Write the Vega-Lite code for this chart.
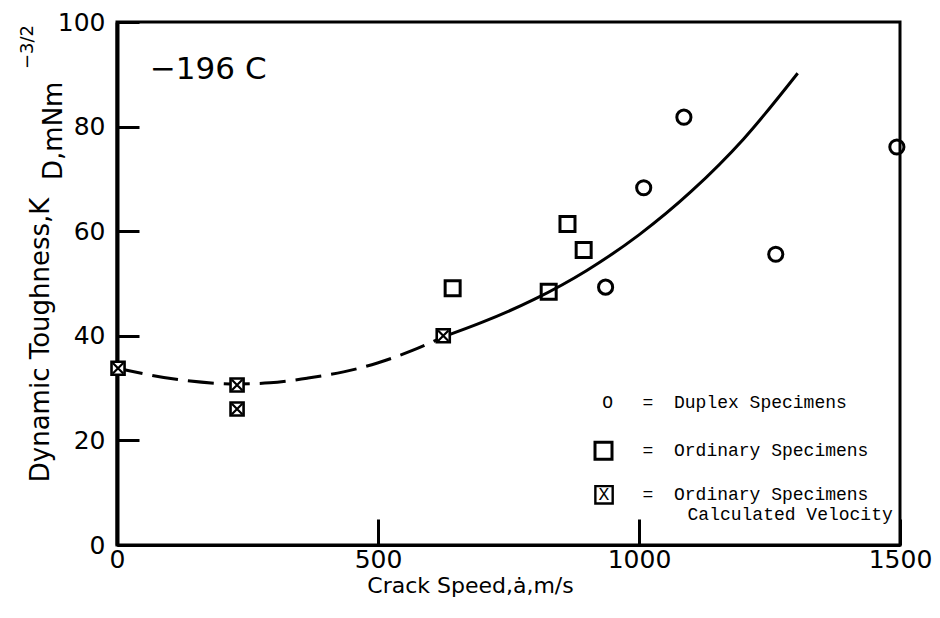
{
  "$schema": "https://vega.github.io/schema/vega-lite/v6.json",
  "width": 783,
  "height": 523,
  "autosize": {"type": "none"},
  "padding": {"left": 117, "top": 22, "right": 40, "bottom": 73},
  "background": "white",
  "config": {
    "view": {"stroke": "black", "strokeWidth": 3},
    "font": "DejaVu Sans",
    "axis": {"grid": false, "domainColor": "black", "tickColor": "black", "labelColor": "black", "titleColor": "black"}
  },
  "datasets": {
    "specimens": [
      {"speed": 1086, "toughness": 81.8, "group": "Duplex"},
      {"speed": 1009, "toughness": 68.3, "group": "Duplex"},
      {"speed": 936, "toughness": 49.3, "group": "Duplex"},
      {"speed": 1262, "toughness": 55.6, "group": "Duplex"},
      {"speed": 1494, "toughness": 76.1, "group": "Duplex"},
      {"speed": 643, "toughness": 49.1, "group": "Ordinary"},
      {"speed": 827, "toughness": 48.4, "group": "Ordinary"},
      {"speed": 863, "toughness": 61.4, "group": "Ordinary"},
      {"speed": 894, "toughness": 56.4, "group": "Ordinary"},
      {"speed": 2, "toughness": 33.8, "group": "Calculated"},
      {"speed": 230, "toughness": 30.6, "group": "Calculated"},
      {"speed": 230, "toughness": 26.0, "group": "Calculated"},
      {"speed": 625, "toughness": 40.0, "group": "Calculated"}
    ],
    "fitDashed": [
      {"speed": 0, "toughness": 33.8},
      {"speed": 127, "toughness": 31.5},
      {"speed": 230, "toughness": 30.8},
      {"speed": 293, "toughness": 31.0},
      {"speed": 364, "toughness": 31.9},
      {"speed": 434, "toughness": 33.1},
      {"speed": 499, "toughness": 34.8},
      {"speed": 566, "toughness": 37.2},
      {"speed": 625, "toughness": 39.8}
    ],
    "fitSolid": [
      {"speed": 625, "toughness": 39.8},
      {"speed": 700, "toughness": 42.6},
      {"speed": 800, "toughness": 47.0},
      {"speed": 900, "toughness": 52.5},
      {"speed": 1000, "toughness": 59.3},
      {"speed": 1100, "toughness": 67.6},
      {"speed": 1200, "toughness": 77.6},
      {"speed": 1304, "toughness": 90.2}
    ],
    "note": [{}]
  },
  "layer": [
    {
      "data": {"name": "fitDashed"},
      "mark": {"type": "line", "color": "black", "strokeWidth": 3, "strokeDash": [26, 10], "interpolate": "monotone"},
      "encoding": {
        "x": {
          "field": "speed", "type": "quantitative",
          "scale": {"domain": [0, 1500], "nice": false, "zero": false},
          "axis": {
            "title": "Crack Speed,ȧ,m/s",
            "values": [0, 500, 1000, 1500],
            "format": "d",
            "tickSize": -26, "tickWidth": 3, "domainWidth": 3,
            "labelPadding": 28, "labelFontSize": 25, "labelFlush": false, "labelOverlap": false,
            "titleFontSize": 22, "titleFontWeight": "normal", "titleFont": "DejaVu Sans",
            "titleX": 353, "titleY": 40, "titleBaseline": "middle", "titleAlign": "center", "titleAnchor": null
          }
        },
        "y": {
          "field": "toughness", "type": "quantitative",
          "scale": {"domain": [0, 100], "nice": false, "zero": false},
          "axis": {
            "title": null,
            "values": [0, 20, 40, 60, 80, 100],
            "tickSize": -22, "tickWidth": 3, "domainWidth": 4,
            "labelPadding": 34, "labelFontSize": 25, "labelFlush": false, "labelOverlap": false
          }
        }
      }
    },
    {
      "data": {"name": "fitSolid"},
      "mark": {"type": "line", "color": "black", "strokeWidth": 3, "interpolate": "monotone"},
      "encoding": {
        "x": {"field": "speed", "type": "quantitative"},
        "y": {"field": "toughness", "type": "quantitative"}
      }
    },
    {
      "data": {"name": "specimens"},
      "transform": [{"filter": "datum.group === 'Duplex'"}],
      "mark": {"type": "point", "shape": "circle", "filled": false, "color": "black", "strokeWidth": 3, "size": 200, "opacity": 1},
      "encoding": {
        "x": {"field": "speed", "type": "quantitative"},
        "y": {"field": "toughness", "type": "quantitative"}
      }
    },
    {
      "data": {"name": "specimens"},
      "transform": [{"filter": "datum.group === 'Ordinary'"}],
      "mark": {"type": "point", "shape": "square", "filled": false, "color": "black", "strokeWidth": 3, "size": 225, "opacity": 1},
      "encoding": {
        "x": {"field": "speed", "type": "quantitative"},
        "y": {"field": "toughness", "type": "quantitative"}
      }
    },
    {
      "data": {"name": "specimens"},
      "transform": [{"filter": "datum.group === 'Calculated'"}],
      "mark": {"type": "point", "shape": "square", "filled": true, "fill": "white", "stroke": "black", "strokeWidth": 2.6, "size": 170, "opacity": 1},
      "encoding": {
        "x": {"field": "speed", "type": "quantitative"},
        "y": {"field": "toughness", "type": "quantitative"}
      }
    },
    {
      "data": {"name": "specimens"},
      "transform": [{"filter": "datum.group === 'Calculated'"}],
      "mark": {"type": "point", "shape": "M-0.8,-0.8L0.8,0.8M0.8,-0.8L-0.8,0.8", "filled": false, "color": "black", "strokeWidth": 2.2, "size": 170, "opacity": 1},
      "encoding": {
        "x": {"field": "speed", "type": "quantitative"},
        "y": {"field": "toughness", "type": "quantitative"}
      }
    },
    {
      "data": {"name": "note"},
      "mark": {"type": "text", "text": "−196 C", "font": "DejaVu Sans", "fontSize": 31, "align": "left", "baseline": "middle", "color": "black"},
      "encoding": {
        "x": {"datum": 63, "type": "quantitative"},
        "y": {"datum": 90.8, "type": "quantitative"}
      }
    },
    {
      "data": {"name": "note"},
      "mark": {"type": "text", "text": "Dynamic Toughness,K", "font": "DejaVu Sans", "fontSize": 26, "angle": 270, "align": "left", "baseline": "alphabetic", "dy": -68, "color": "black"},
      "encoding": {
        "x": {"datum": 0, "type": "quantitative"},
        "y": {"datum": 12.0, "type": "quantitative"}
      }
    },
    {
      "data": {"name": "note"},
      "mark": {"type": "text", "text": "D,mNm", "font": "DejaVu Sans", "fontSize": 26, "angle": 270, "align": "left", "baseline": "alphabetic", "dy": -55, "color": "black"},
      "encoding": {
        "x": {"datum": 0, "type": "quantitative"},
        "y": {"datum": 69.8, "type": "quantitative"}
      }
    },
    {
      "data": {"name": "note"},
      "mark": {"type": "text", "text": "−3/2", "font": "DejaVu Sans", "fontSize": 18, "angle": 270, "align": "left", "baseline": "alphabetic", "dy": -84, "color": "black"},
      "encoding": {
        "x": {"datum": 0, "type": "quantitative"},
        "y": {"datum": 91.0, "type": "quantitative"}
      }
    },
    {
      "data": {"name": "note"},
      "mark": {"type": "text", "text": "O", "font": "Liberation Mono", "fontSize": 18, "align": "center", "baseline": "middle", "color": "black"},
      "encoding": {"x": {"datum": 940, "type": "quantitative"}, "y": {"datum": 27.2, "type": "quantitative"}}
    },
    {
      "data": {"name": "note"},
      "mark": {"type": "text", "text": "=", "font": "Liberation Mono", "fontSize": 18, "align": "center", "baseline": "middle", "color": "black"},
      "encoding": {"x": {"datum": 1017, "type": "quantitative"}, "y": {"datum": 27.2, "type": "quantitative"}}
    },
    {
      "data": {"name": "note"},
      "mark": {"type": "text", "text": "Duplex Specimens", "font": "Liberation Mono", "fontSize": 18, "align": "left", "baseline": "middle", "color": "black"},
      "encoding": {"x": {"datum": 1067, "type": "quantitative"}, "y": {"datum": 27.2, "type": "quantitative"}}
    },
    {
      "data": {"name": "note"},
      "mark": {"type": "point", "shape": "square", "filled": false, "color": "black", "strokeWidth": 3, "size": 289, "opacity": 1},
      "encoding": {"x": {"datum": 932, "type": "quantitative"}, "y": {"datum": 18.0, "type": "quantitative"}}
    },
    {
      "data": {"name": "note"},
      "mark": {"type": "text", "text": "=", "font": "Liberation Mono", "fontSize": 18, "align": "center", "baseline": "middle", "color": "black"},
      "encoding": {"x": {"datum": 1017, "type": "quantitative"}, "y": {"datum": 18.0, "type": "quantitative"}}
    },
    {
      "data": {"name": "note"},
      "mark": {"type": "text", "text": "Ordinary Specimens", "font": "Liberation Mono", "fontSize": 18, "align": "left", "baseline": "middle", "color": "black"},
      "encoding": {"x": {"datum": 1067, "type": "quantitative"}, "y": {"datum": 18.0, "type": "quantitative"}}
    },
    {
      "data": {"name": "note"},
      "mark": {"type": "point", "shape": "square", "filled": false, "color": "black", "strokeWidth": 2.4, "size": 300, "opacity": 1},
      "encoding": {"x": {"datum": 933, "type": "quantitative"}, "y": {"datum": 9.6, "type": "quantitative"}}
    },
    {
      "data": {"name": "note"},
      "mark": {"type": "text", "text": "X", "font": "Liberation Mono", "fontSize": 18, "align": "center", "baseline": "middle", "color": "black"},
      "encoding": {"x": {"datum": 933, "type": "quantitative"}, "y": {"datum": 9.6, "type": "quantitative"}}
    },
    {
      "data": {"name": "note"},
      "mark": {"type": "text", "text": "=", "font": "Liberation Mono", "fontSize": 18, "align": "center", "baseline": "middle", "color": "black"},
      "encoding": {"x": {"datum": 1017, "type": "quantitative"}, "y": {"datum": 9.6, "type": "quantitative"}}
    },
    {
      "data": {"name": "note"},
      "mark": {"type": "text", "text": "Ordinary Specimens", "font": "Liberation Mono", "fontSize": 18, "align": "left", "baseline": "middle", "color": "black"},
      "encoding": {"x": {"datum": 1067, "type": "quantitative"}, "y": {"datum": 9.6, "type": "quantitative"}}
    },
    {
      "data": {"name": "note"},
      "mark": {"type": "text", "text": "Calculated Velocity", "font": "Liberation Mono", "fontSize": 18, "align": "left", "baseline": "middle", "color": "black"},
      "encoding": {"x": {"datum": 1093, "type": "quantitative"}, "y": {"datum": 5.7, "type": "quantitative"}}
    }
  ]
}
